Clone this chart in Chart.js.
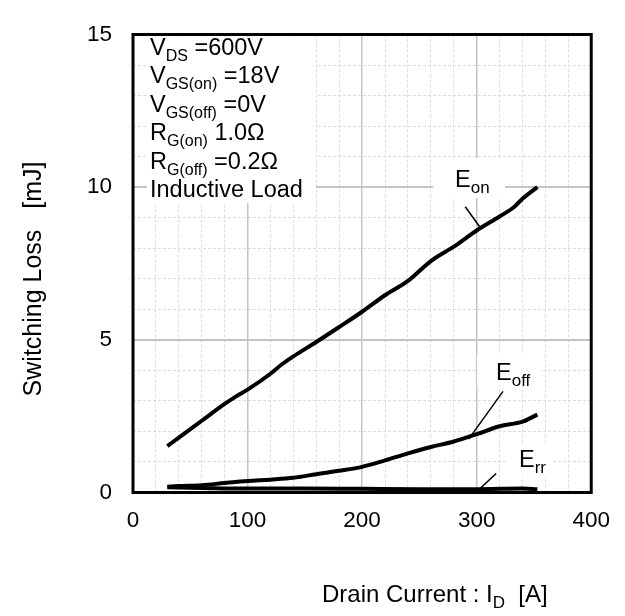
<!DOCTYPE html>
<html>
<head>
<meta charset="utf-8">
<script src="https://cdn.jsdelivr.net/npm/chart.js@4/dist/chart.umd.min.js"></script>
<style>
    html, body { margin: 0; padding: 0; background: #fff; }
    #lossWrap { width: 625px; height: 616px; }
</style>
</head>
<body>
<div id="lossWrap"><canvas id="lossChart"></canvas></div>
<script>
// switching loss vs drain current
var onCurrent = [30, 40, 60, 80, 90, 100, 120, 130, 140, 160, 180, 200, 220, 240, 260, 280, 300, 320, 333, 340, 353];
var onLoss = [1.52, 1.80, 2.35, 2.90, 3.15, 3.37, 3.89, 4.20, 4.46, 4.93, 5.42, 5.92, 6.46, 6.93, 7.58, 8.05, 8.58, 9.04, 9.36, 9.62, 10.0];

var offCurrent = [30, 40, 60, 80, 100, 120, 140, 160, 180, 200, 220, 240, 260, 280, 300, 320, 340, 353];
var offLoss = [0.19, 0.21, 0.24, 0.31, 0.375, 0.42, 0.48, 0.60, 0.71, 0.84, 1.05, 1.28, 1.49, 1.67, 1.91, 2.17, 2.32, 2.55];

var rrCurrent = [30, 60, 100, 150, 200, 250, 300, 340, 353];
var rrLoss = [0.17, 0.15, 0.13, 0.13, 0.12, 0.11, 0.11, 0.13, 0.11];

var xTicks = [0, 100, 200, 300, 400];
var yTicks = [0, 5, 10, 15];

var conditions = [
    ['V', 'DS', ' =600V'],
    ['V', 'GS(on)', ' =18V'],
    ['V', 'GS(off)', ' =0V'],
    ['R', 'G(on)', ' 1.0\u03A9'],
    ['R', 'G(off)', ' =0.2\u03A9'],
    ['Inductive Load', '', '']
];

var FONT = '"Liberation Sans", Arial, sans-serif';

function toPoints(xs, ys) {
    var pts = [];
    for (var i = 0; i < xs.length; i++) {
        pts.push({ x: xs[i], y: ys[i] });
    }
    return pts;
}

// text with a lowered subscript part, returns end x
function subText(ctx, x, y, main, sub, tail, size, subSize) {
    ctx.font = size + 'px ' + FONT;
    ctx.fillText(main, x, y);
    x += ctx.measureText(main).width;
    if (sub) {
        ctx.font = subSize + 'px ' + FONT;
        ctx.fillText(sub, x, y + 6);
        x += ctx.measureText(sub).width;
    }
    if (tail) {
        ctx.font = size + 'px ' + FONT;
        ctx.fillText(tail, x, y);
        x += ctx.measureText(tail).width;
    }
    return x;
}

var notesPlugin = {
    id: 'notes',
    beforeDatasetsDraw: function(chart) {
        var ctx = chart.ctx;
        var xs = chart.scales.x, ys = chart.scales.y;
        var px = function(v) { return xs.getPixelForValue(v); };
        var py = function(v) { return ys.getPixelForValue(v); };
        ctx.save();

        // white boxes behind the labels
        ctx.fillStyle = '#fff';
        ctx.fillRect(147, 37, 169, 166);
        ctx.fillRect(433, 158, 72, 40);
        ctx.fillRect(477, 355, 63, 31);
        ctx.fillRect(508, 445, 44, 31);

        ctx.fillStyle = '#000';
        ctx.textBaseline = 'alphabetic';
        ctx.textAlign = 'left';
        var base = 55;
        conditions.forEach(function(c) {
            subText(ctx, 150, base, c[0], c[1], c[2], 23.5, 16);
            base += 28.4;
        });

        subText(ctx, 455, 187, 'E', 'on', '', 23.5, 17);
        subText(ctx, 496, 380, 'E', 'off', '', 23.5, 17);
        subText(ctx, 519, 467, 'E', 'rr', '', 23.5, 17);

        // leader lines
        ctx.strokeStyle = '#000';
        ctx.lineWidth = 1.5;
        ctx.beginPath();
        ctx.moveTo(px(290), py(9.36));
        ctx.lineTo(px(304), py(8.63));
        ctx.moveTo(px(323), py(3.31));
        ctx.lineTo(px(293), py(1.75));
        ctx.moveTo(px(317), py(0.62));
        ctx.lineTo(px(301), py(0.06));
        ctx.stroke();
        ctx.restore();
    },
    afterDatasetsDraw: function(chart) {
        var ctx = chart.ctx;
        var a = chart.chartArea;
        ctx.save();
        ctx.strokeStyle = '#000';
        ctx.lineWidth = 3;
        ctx.strokeRect(a.left, a.top, a.right - a.left, a.bottom - a.top);
        ctx.restore();
    },
    afterDraw: function(chart) {
        var ctx = chart.ctx;
        ctx.save();
        ctx.fillStyle = '#000';
        ctx.textBaseline = 'alphabetic';
        ctx.textAlign = 'left';
        subText(ctx, 322, 602, 'Drain Current : I', 'D', '  [A]', 24, 17);

        ctx.translate(41, 279);
        ctx.rotate(-Math.PI / 2);
        ctx.font = '25px ' + FONT;
        ctx.textAlign = 'center';
        ctx.fillText('Switching Loss   [mJ]', 0, 0);
        ctx.restore();
    }
};

function gridColor(major) {
    return function(c) {
        if (c.tick && major.indexOf(c.tick.value) >= 0) return '#c4c4c4';
        return '#dcdcdc';
    };
}

function gridDash(major) {
    return function(c) {
        if (c.tick && major.indexOf(c.tick.value) >= 0) return [];
        return [3, 2];
    };
}

var lineStyle = {
    borderColor: '#000',
    backgroundColor: '#000',
    borderWidth: 4,
    pointRadius: 0,
    fill: false,
    tension: 0.4,
    cubicInterpolationMode: 'monotone'
};

var ctx = document.getElementById('lossChart');

var myChart = new Chart(ctx, {
    type: 'line',
    data: {
        datasets: [
            Object.assign({ label: 'Eon', data: toPoints(onCurrent, onLoss) }, lineStyle),
            Object.assign({ label: 'Eoff', data: toPoints(offCurrent, offLoss) }, lineStyle),
            Object.assign({ label: 'Err', data: toPoints(rrCurrent, rrLoss) }, lineStyle)
        ]
    },
    options: {
        responsive: true,
        maintainAspectRatio: false,
        animation: false,
        layout: { padding: { top: 12.5, right: 28, left: 0, bottom: 0 } },
        plugins: {
            legend: { display: false },
            tooltip: { enabled: false }
        },
        scales: {
            x: {
                type: 'linear',
                min: 0,
                max: 400,
                afterFit: function(scale) { scale.height = 123.5; },
                ticks: {
                    stepSize: 20,
                    autoSkip: false,
                    maxRotation: 0,
                    padding: 15,
                    color: '#000',
                    font: { family: FONT, size: 22.5 },
                    callback: function(v) { return xTicks.indexOf(v) >= 0 ? v : ''; }
                },
                grid: {
                    drawTicks: false,
                    color: gridColor(xTicks),
                    lineWidth: function(c) { return c.tick && xTicks.indexOf(c.tick.value) >= 0 ? 1.5 : 1; }
                },
                border: { display: false, dash: gridDash(xTicks) }
            },
            y: {
                min: 0,
                max: 15,
                afterFit: function(scale) { scale.width = 133; },
                ticks: {
                    stepSize: 1,
                    autoSkip: false,
                    padding: 21,
                    color: '#000',
                    font: { family: FONT, size: 22.5 },
                    callback: function(v) { return yTicks.indexOf(v) >= 0 ? v : ''; }
                },
                grid: {
                    drawTicks: false,
                    color: gridColor(yTicks),
                    lineWidth: function(c) { return c.tick && yTicks.indexOf(c.tick.value) >= 0 ? 2 : 1; }
                },
                border: { display: false, dash: gridDash(yTicks) }
            }
        }
    },
    plugins: [notesPlugin]
});
</script>
</body>
</html>
